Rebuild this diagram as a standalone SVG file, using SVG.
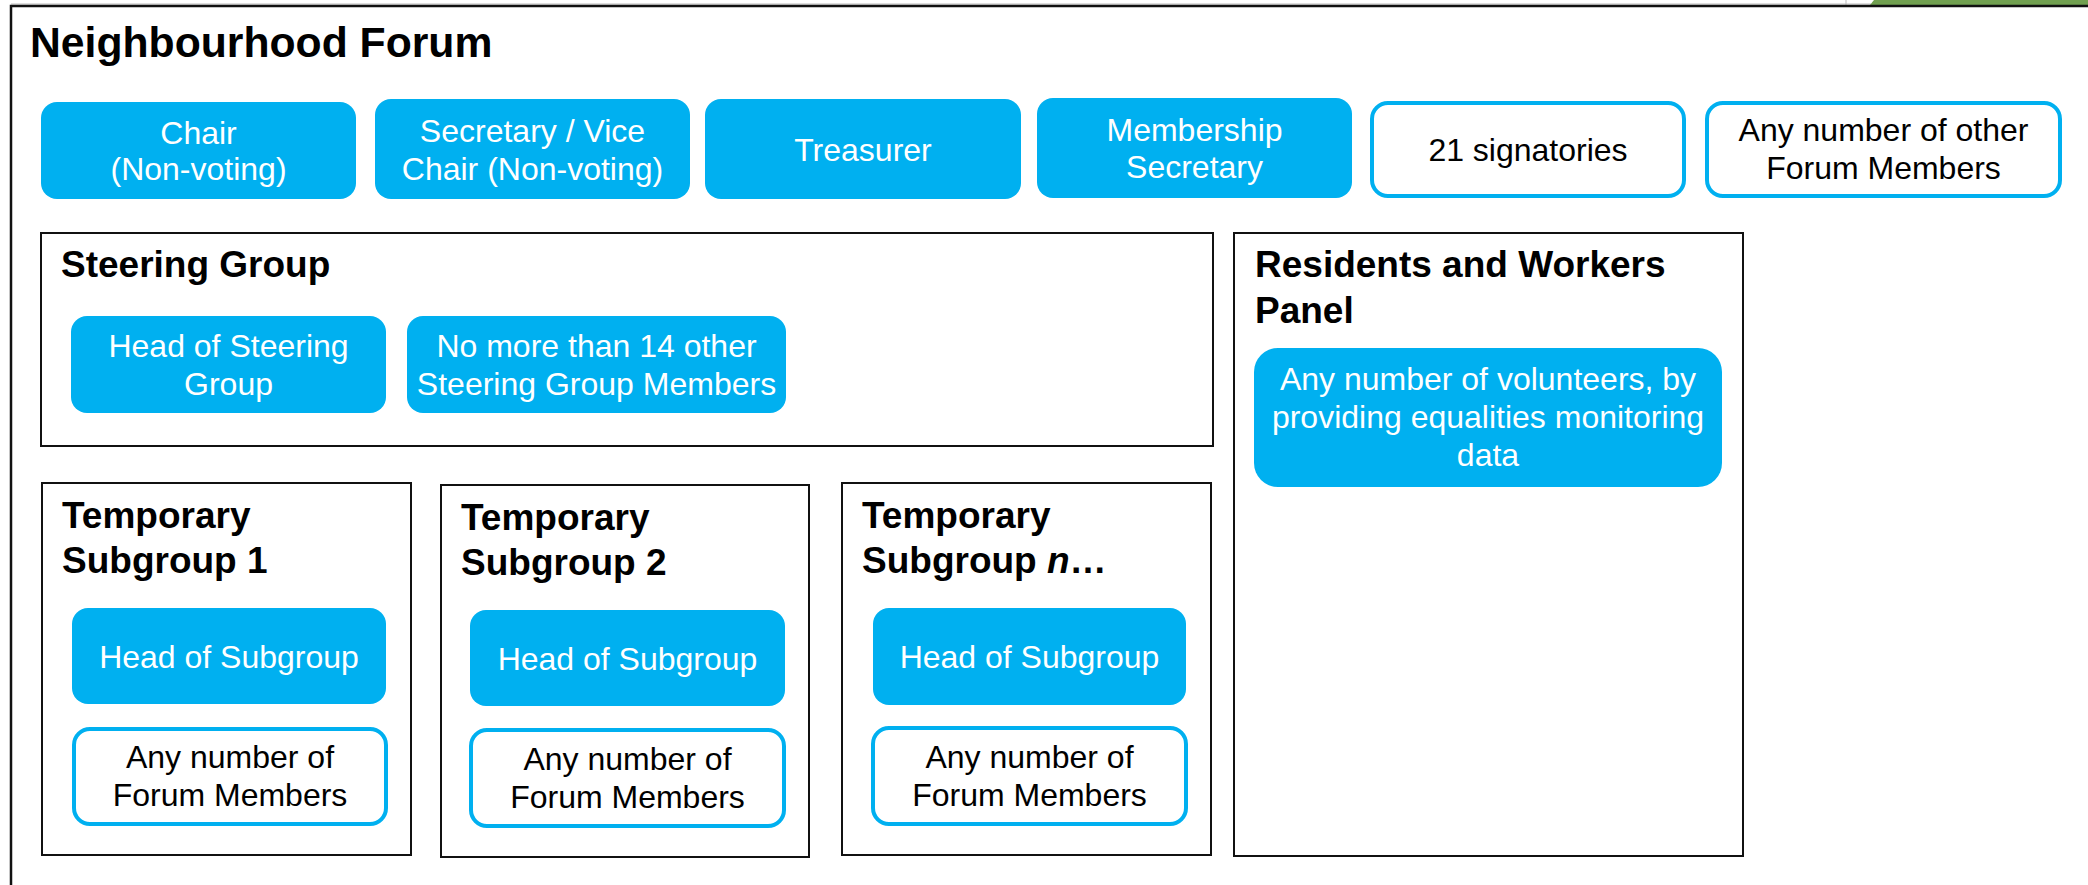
<svg xmlns="http://www.w3.org/2000/svg" width="2088" height="885" viewBox="0 0 2088 885">
<style>
.bg{fill:#ffffff}
.frame{fill:none;stroke:#111;stroke-width:2.5}
.box{fill:#fff;stroke:#111;stroke-width:2}
.blue{fill:#00B0F0}
.outl{fill:#fff;stroke:#00B0F0;stroke-width:4}
.t{font-family:"Liberation Sans",Arial,sans-serif;font-size:32px;text-anchor:middle}
.w{fill:#fff}
.k{fill:#000}
.h{font-family:"Liberation Sans",Arial,sans-serif;font-weight:bold;font-size:37px;fill:#000}
.h1{font-family:"Liberation Sans",Arial,sans-serif;font-weight:bold;font-size:42.7px;fill:#000}
</style>
<rect class="bg" x="0" y="0" width="2088" height="885"/>
<g id="topstrip">
<line x1="11" y1="4" x2="1871" y2="4" stroke="#bbb" stroke-width="1"/>
<line x1="1846" y1="0" x2="1846" y2="5" stroke="#bbb" stroke-width="1"/>
<polygon points="1870,5 1874,0 2088,0 2088,5" fill="#71A050"/>
</g>
<g id="forum">
<path class="frame" d="M11,890 V6 H2095"/>
<text class="h1" x="30" y="57">Neighbourhood Forum</text>
</g>
<g id="chair">
<rect class="blue" x="41" y="102" width="315" height="97" rx="16"/>
<text class="t w" x="198.5" y="144">Chair</text>
<text class="t w" x="198.5" y="180">(Non-voting)</text>
</g>
<g id="secretary">
<rect class="blue" x="375" y="99" width="315" height="100" rx="16"/>
<text class="t w" x="532.5" y="142">Secretary / Vice</text>
<text class="t w" x="532.5" y="180">Chair (Non-voting)</text>
</g>
<g id="treasurer">
<rect class="blue" x="705" y="99" width="316" height="100" rx="16"/>
<text class="t w" x="863" y="161">Treasurer</text>
</g>
<g id="membership">
<rect class="blue" x="1037" y="98" width="315" height="100" rx="16"/>
<text class="t w" x="1194.5" y="141">Membership</text>
<text class="t w" x="1194.5" y="178">Secretary</text>
</g>
<g id="signatories">
<rect class="outl" x="1372" y="103" width="312" height="93" rx="16"/>
<text class="t k" x="1528" y="161">21 signatories</text>
</g>
<g id="other-members">
<rect class="outl" x="1707" y="103" width="353" height="93" rx="16"/>
<text class="t k" x="1883.5" y="141">Any number of other</text>
<text class="t k" x="1883.5" y="179">Forum Members</text>
</g>
<g id="steering-group">
<rect class="box" x="41" y="233" width="1172" height="213"/>
<text class="h" x="61" y="277">Steering Group</text>
</g>
<g id="head-steering">
<rect class="blue" x="71" y="316" width="315" height="97" rx="16"/>
<text class="t w" x="228.5" y="357">Head of Steering</text>
<text class="t w" x="228.5" y="395">Group</text>
</g>
<g id="steering-members">
<rect class="blue" x="407" y="316" width="379" height="97" rx="16"/>
<text class="t w" x="596.5" y="357">No more than 14 other</text>
<text class="t w" x="596.5" y="395">Steering Group Members</text>
</g>
<g id="panel">
<rect class="box" x="1234" y="233" width="509" height="623"/>
<text class="h" x="1255" y="277">Residents and Workers</text>
<text class="h" x="1255" y="323">Panel</text>
</g>
<g id="volunteers">
<rect class="blue" x="1254" y="348" width="468" height="139" rx="24"/>
<text class="t w" x="1488" y="390">Any number of volunteers, by</text>
<text class="t w" x="1488" y="428">providing equalities monitoring</text>
<text class="t w" x="1488" y="466">data</text>
</g>
<g id="subgroup-1">
<rect class="box" x="42" y="483" width="369" height="372"/>
<text class="h" x="62" y="528">Temporary</text>
<text class="h" x="62" y="573">Subgroup 1</text>
</g>
<g id="head-sub-1">
<rect class="blue" x="72" y="608" width="314" height="96" rx="16"/>
<text class="t w" x="229" y="668">Head of Subgroup</text>
</g>
<g id="members-sub-1">
<rect class="outl" x="74" y="729" width="312" height="95" rx="16"/>
<text class="t k" x="230" y="768">Any number of</text>
<text class="t k" x="230" y="806">Forum Members</text>
</g>
<g id="subgroup-2">
<rect class="box" x="441" y="485" width="368" height="372"/>
<text class="h" x="461" y="530">Temporary</text>
<text class="h" x="461" y="575">Subgroup 2</text>
</g>
<g id="head-sub-2">
<rect class="blue" x="470" y="610" width="315" height="96" rx="16"/>
<text class="t w" x="627.5" y="670">Head of Subgroup</text>
</g>
<g id="members-sub-2">
<rect class="outl" x="471" y="730" width="313" height="96" rx="16"/>
<text class="t k" x="627.5" y="770">Any number of</text>
<text class="t k" x="627.5" y="808">Forum Members</text>
</g>
<g id="subgroup-n">
<rect class="box" x="842" y="483" width="369" height="372"/>
<text class="h" x="862" y="528">Temporary</text>
<text class="h" x="862" y="573">Subgroup <tspan font-style="italic">n</tspan>…</text>
</g>
<g id="head-sub-n">
<rect class="blue" x="873" y="608" width="313" height="97" rx="16"/>
<text class="t w" x="1029.5" y="668">Head of Subgroup</text>
</g>
<g id="members-sub-n">
<rect class="outl" x="873" y="728" width="313" height="96" rx="16"/>
<text class="t k" x="1029.5" y="768">Any number of</text>
<text class="t k" x="1029.5" y="806">Forum Members</text>
</g>
<g id="connectors"/>
</svg>
